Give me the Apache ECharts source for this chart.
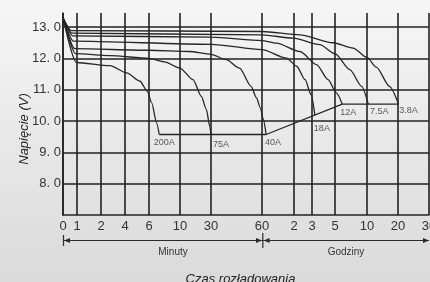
<!DOCTYPE html>
<html>
<head>
<meta charset="utf-8">
<script src="https://cdn.jsdelivr.net/npm/echarts@6/dist/echarts.min.js"></script>
<style>
  html, body { margin: 0; padding: 0; }
  #chart { width: 430px; height: 282px; }
</style>
</head>
<body>
<div id="chart"></div>
<script>
// time axis: uneven scale, tick positions (axis units) and the minutes they stand for
const tickPos = [0, 14, 38, 62, 86, 117, 148, 199, 231, 249, 272, 304, 335, 366];
const tickMinutes = [0, 1, 2, 4, 6, 10, 30, 60, 120, 180, 300, 600, 1200, 1800];
const tickLabels = ['0', '1', '2', '4', '6', '10', '30', '60', '2', '3', '5', '10', '20', '30'];
const voltTicks = [8, 9, 10, 11, 12, 13];
const voltLabels = ['8. 0', '9. 0', '10. 0', '11. 0', '12. 0', '13. 0'];

const currents = ['200A', '75A', '40A', '18A', '12A', '7.5A', '3.8A'];
// discharge curves, [minutes, volts]
const c200 = [[0, 13.3], [0.95, 11.87], [2.75, 11.77], [4.14, 11.54], [5.25, 11.27], [5.86, 10.95], [6.35, 10.58], [6.98, 9.94], [7.32, 9.57]];
const c75 = [[0, 13.3], [0.9, 12.15], [2.75, 12.09], [6, 12.0], [8, 11.89], [10, 11.69], [18.4, 11.32], [23.8, 10.79], [27, 10.37], [29.2, 9.83], [30, 9.57]];
const c40 = [[0, 13.3], [0.85, 12.31], [6, 12.26], [16, 12.22], [30, 12.13], [39, 11.96], [46.8, 11.69], [53.6, 11.11], [56.7, 10.75], [59, 10.43], [62.5, 10.05], [67.7, 9.57]];
const c18 = [[0, 13.3], [0.75, 12.55], [30, 12.45], [60, 12.28], [106, 12.01], [129, 11.75], [157, 11.32], [177, 10.84], [195, 10.19]];
const c12 = [[0, 13.3], [0.7, 12.72], [30, 12.68], [60, 12.57], [87, 12.49], [140, 12.22], [204, 11.8], [264, 11.32], [313, 10.9], [368, 10.54]];
const c7_5 = [[0, 13.3], [0.65, 12.81], [60, 12.75], [118, 12.65], [221, 12.44], [300, 12.15], [439, 11.64], [550, 11.11], [625, 10.54]];
const c3_8 = [[0, 13.3], [0.6, 12.89], [60, 12.86], [140, 12.75], [290, 12.5], [470, 12.33], [600, 12.03], [780, 11.72], [1040, 11.1], [1210, 10.54]];

const curves = [c200, c75, c40, c18, c12, c7_5, c3_8];
const last = c => c[c.length - 1];
// end-of-discharge voltage line
const endLine = [last(c200), last(c40), last(c12), last(c3_8)];
// where each current label sits relative to the curve end (px)
const labelOffsets = [[5, 8], [10, 10], [7, 8], [7, 13], [6, 8], [11, 7], [10, 6]];

function toPos(min) {
  for (let i = 1; i < tickMinutes.length; i++) {
    if (min <= tickMinutes[i]) {
      const f = (min - tickMinutes[i - 1]) / (tickMinutes[i] - tickMinutes[i - 1]);
      return tickPos[i - 1] + f * (tickPos[i] - tickPos[i - 1]);
    }
  }
  return tickPos[tickPos.length - 1];
}
const mapPts = c => c.map(p => [toPos(p[0]), p[1]]);

const font = 'Liberation Sans, Arial, sans-serif';
const ink = '#2a2a2a';
const gridLine = { color: '#222', width: 1.6 };
const curveLine = { color: '#262626', width: 1.3 };

const myChart = echarts.init(document.getElementById('chart'));

const series = curves.map(c => ({
  type: 'line',
  data: mapPts(c),
  symbol: 'none',
  smooth: 0.25,
  smoothMonotone: 'x',
  lineStyle: curveLine,
  silent: true
}));
series.push({
  type: 'line',
  data: mapPts(endLine),
  symbol: 'none',
  lineStyle: curveLine,
  silent: true
});
series.push({
  type: 'scatter',
  symbolSize: 0,
  silent: true,
  data: curves.map((c, i) => ({
    value: [toPos(last(c)[0]), last(c)[1]],
    label: {
      show: true,
      position: 'inside',
      offset: labelOffsets[i],
      formatter: currents[i],
      fontSize: 9,
      fontFamily: font,
      color: '#333'
    }
  }))
});

const arrowY = 240.5;
const option = {
  animation: false,
  backgroundColor: {
    type: 'linear', x: 0, y: 0, x2: 0, y2: 1,
    colorStops: [{ offset: 0, color: '#f6f6f6' }, { offset: 1, color: '#dadada' }]
  },
  grid: { left: 63, right: 1, top: 13, bottom: 67, outerBoundsMode: 'none' },
  xAxis: {
    type: 'value',
    min: 0,
    max: 366,
    axisLine: { show: true, lineStyle: gridLine },
    splitLine: { show: false },
    axisTick: { show: true, inside: true, length: 202, customValues: tickPos, lineStyle: gridLine },
    axisLabel: {
      customValues: tickPos,
      formatter: v => tickLabels[tickPos.indexOf(v)],
      alignMinLabel: 'center',
      alignMaxLabel: 'center',
      hideOverlap: false,
      margin: 5,
      fontSize: 13,
      fontFamily: font,
      color: '#333'
    }
  },
  yAxis: {
    type: 'value',
    min: 7,
    max: 13.45,
    axisLine: { show: true, lineStyle: gridLine },
    splitLine: { show: false },
    axisTick: { show: true, inside: true, length: 366, customValues: voltTicks, lineStyle: gridLine },
    axisLabel: {
      customValues: voltTicks,
      formatter: v => voltLabels[voltTicks.indexOf(v)],
      margin: 2,
      fontSize: 13,
      fontFamily: font,
      color: '#333'
    }
  },
  series: series,
  graphic: [
    { type: 'line', shape: { x1: 63.5, y1: arrowY, x2: 262.5, y2: arrowY }, style: { stroke: ink, lineWidth: 1 } },
    { type: 'line', shape: { x1: 263, y1: arrowY, x2: 429, y2: arrowY }, style: { stroke: ink, lineWidth: 1 } },
    { type: 'line', shape: { x1: 63.5, y1: 235, x2: 63.5, y2: 246 }, style: { stroke: ink, lineWidth: 1.2 } },
    { type: 'line', shape: { x1: 262.8, y1: 233, x2: 262.8, y2: 248 }, style: { stroke: ink, lineWidth: 1.2 } },
    { type: 'polygon', shape: { points: [[64, arrowY], [70, arrowY - 2.5], [70, arrowY + 2.5]] }, style: { fill: ink } },
    { type: 'polygon', shape: { points: [[262, arrowY], [256, arrowY - 2.5], [256, arrowY + 2.5]] }, style: { fill: ink } },
    { type: 'polygon', shape: { points: [[263.6, arrowY], [269.6, arrowY - 2.5], [269.6, arrowY + 2.5]] }, style: { fill: ink } },
    { type: 'polygon', shape: { points: [[429, arrowY], [423, arrowY - 2.5], [423, arrowY + 2.5]] }, style: { fill: ink } },
    { type: 'text', x: 173, y: 252, style: { text: 'Minuty', font: '10px ' + font, fill: '#333', textAlign: 'center', textVerticalAlign: 'middle' } },
    { type: 'text', x: 346, y: 252, style: { text: 'Godziny', font: '10px ' + font, fill: '#333', textAlign: 'center', textVerticalAlign: 'middle' } },
    { type: 'text', x: 240.5, y: 279, style: { text: 'Czas rozładowania', font: 'italic 13px ' + font, fill: '#222', textAlign: 'center', textVerticalAlign: 'middle' } },
    { type: 'text', x: 24, y: 129, rotation: Math.PI / 2, style: { text: 'Napięcie (V)', font: 'italic 13px ' + font, fill: '#222', textAlign: 'center', textVerticalAlign: 'middle' } }
  ]
};
myChart.setOption(option);
</script>
</body>
</html>
